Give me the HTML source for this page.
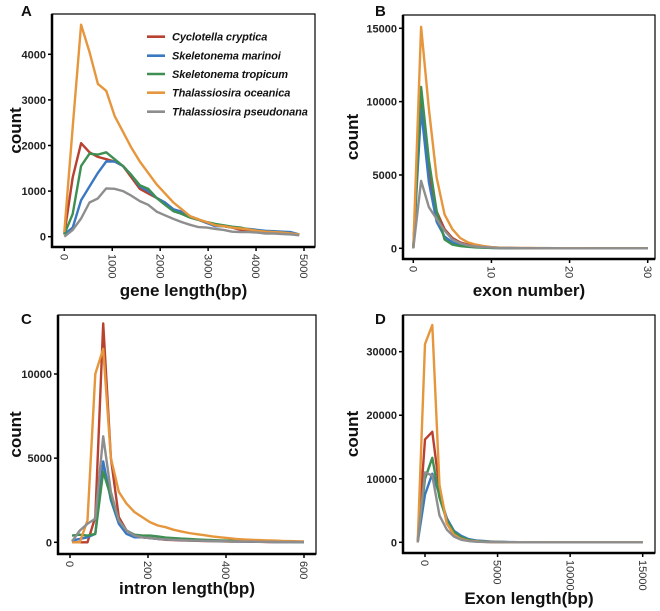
<!DOCTYPE html>
<html><head><meta charset="utf-8">
<style>
body{margin:0;background:#fff;}
svg{display:block;font-family:"Liberation Sans",Arial,sans-serif;}
.tick{font-size:11px;font-weight:bold;fill:#222;}
.ttl{font-size:17px;font-weight:bold;fill:#111;}
.plab{font-size:15px;font-weight:bold;fill:#111;}
.leg{font-size:11px;font-weight:bold;font-style:italic;fill:#111;letter-spacing:-0.1px;}
</style></head>
<body>
<svg id="fig" width="660" height="611" viewBox="0 0 660 611"></svg>
<script>
const speciesNames = ["Cyclotella cryptica","Skeletonema marinoi","Skeletonema tropicum","Thalassiosira oceanica","Thalassiosira pseudonana"];
const speciesColors = ["#b8412f","#3a78c2","#3d8f52","#e6963c","#8e8e8e"];

// Panel A: gene length
const aX = [0,175,350,525,700,875,1050,1225,1400,1575,1750,1925,2100,2275,2450,2625,2800,2975,3150,3325,3500,3675,3850,4025,4200,4375,4550,4725,4900];
const aRed = [50,1300,2050,1850,1750,1700,1650,1550,1300,1050,950,850,750,600,500,420,370,300,270,230,200,150,140,130,110,100,90,80,50];
const aBlue = [50,200,800,1100,1400,1650,1650,1550,1350,1100,1000,850,750,600,550,450,380,300,230,230,200,180,170,150,130,120,110,100,50];
const aGreen = [50,500,1550,1820,1800,1850,1700,1550,1350,1130,1050,850,700,560,500,420,370,320,280,250,220,200,160,130,110,100,90,70,40];
const aOrange = [100,2400,4650,4050,3350,3200,2650,2300,1950,1650,1400,1150,950,750,600,450,380,320,250,230,200,180,160,130,110,100,90,70,50];
const aGray = [0,150,400,750,840,1060,1050,1000,900,780,700,550,470,390,320,260,210,200,170,150,110,100,100,90,70,70,60,50,30];
const aYTicks = [0,1000,2000,3000,4000];
const aXTicks = [0,1000,2000,3000,4000,5000];

// Panel B: exon number
const bX = [0,1,2,3,4,5,6,7,8,9,10,11,12,13,14,15,16,17,18,19,20,21,22,23,24,25,26,27,28,29,30];
const bRed = [0,10500,5000,2500,1300,700,400,250,150,80,50,30,20,15,10,10,8,6,5,4,3,3,2,2,1,1,1,1,0,0,0];
const bBlue = [0,9500,4500,1800,800,400,200,120,80,50,30,20,15,10,8,6,5,4,3,2,2,1,1,1,1,0,0,0,0,0,0];
const bGreen = [0,11000,6000,2500,600,250,150,100,60,40,30,20,15,10,8,6,5,4,3,2,2,1,1,1,1,0,0,0,0,0,0];
const bOrange = [0,15100,9500,4800,2300,1300,700,400,250,150,80,50,40,30,25,20,15,12,10,8,6,5,4,3,3,2,2,1,1,1,0];
const bGray = [0,4600,2800,2000,1200,600,350,200,120,80,50,30,20,15,10,8,6,5,4,3,2,2,1,1,1,1,0,0,0,0,0];
const bYTicks = [0,5000,10000,15000];
const bXTicks = [0,10,20,30];

// Panel C: intron length
const cX = [5,25,45,65,85,105,125,145,165,185,205,225,245,265,285,305,325,345,365,385,405,425,445,465,485,505,525,545,565,585,600];
const cRed = [0,0,0,1500,13000,5000,1500,700,400,300,250,200,150,130,110,100,90,80,70,60,50,40,40,30,30,20,20,20,10,10,10];
const cBlue = [100,200,300,500,4800,2500,1100,500,300,300,250,200,170,150,130,110,100,90,80,70,60,50,40,40,30,30,20,20,20,10,10];
const cGreen = [400,450,400,500,4200,2700,1300,700,450,400,400,350,280,250,220,200,170,150,130,110,100,90,80,70,60,50,40,30,30,20,20];
const cOrange = [0,0,1300,10000,11500,5000,3000,2300,1800,1500,1200,1000,900,750,650,550,480,420,350,300,250,200,170,150,130,110,100,80,70,60,50];
const cGray = [50,700,1100,1400,6300,3000,1300,700,400,300,250,200,170,150,130,110,100,90,80,70,60,50,40,40,30,30,20,20,20,10,10];
const cYTicks = [0,5000,10000];
const cXTicks = [0,200,400,600];

// Panel D: exon length
const dX = [-500,0,500,1000,1500,2000,2500,3000,3500,4000,4500,5000,5500,6000,6500,7000,7500,8000,8500,9000,9500,10000,10500,11000,11500,12000,12500,13000,13500,14000,14500,15000];
const dRed = [0,16200,17400,8500,3000,1200,600,300,150,80,50,30,20,10,10,5,5,0,0,0,0,0,0,0,0,0,0,0,0,0,0,0];
const dBlue = [0,7500,10800,7500,3800,1800,1000,500,300,200,120,80,50,30,20,10,10,5,5,0,0,0,0,0,0,0,0,0,0,0,0,0];
const dGreen = [0,10000,13300,7000,3500,1600,800,400,200,120,80,50,30,20,10,10,5,5,0,0,0,0,0,0,0,0,0,0,0,0,0,0];
const dOrange = [0,31200,34200,9000,3000,1200,500,250,150,80,50,30,20,10,10,5,5,0,0,0,0,0,0,0,0,0,0,0,0,0,0,0];
const dGray = [0,11000,10500,4200,2000,900,400,200,100,60,40,20,10,10,5,5,0,0,0,0,0,0,0,0,0,0,0,0,0,0,0,0];
const dYTicks = [0,10000,20000,30000];
const dXTicks = [0,5000,10000,15000];

const NS = "http://www.w3.org/2000/svg";
const fig = document.getElementById("fig");
function mk(tag, attrs, parent){
  const e = document.createElementNS(NS, tag);
  for (const k in attrs) e.setAttribute(k, attrs[k]);
  (parent||fig).appendChild(e);
  return e;
}
function scale(d0,d1,r0,r1){ return v => r0 + (v-d0)/(d1-d0)*(r1-r0); }

function panel(p){
  const g = mk("g", {});
  
  
  const sx = scale(p.xd[0], p.xd[1], p.xr[0], p.xr[1]);
  const sy = scale(p.yd[0], p.yd[1], p.yr[0], p.yr[1]);
  const fr = mk("rect", {x:p.box[0], y:p.box[1], width:p.box[2]-p.box[0], height:p.box[3]-p.box[1], fill:"none", stroke:"#000", "stroke-width":1.2}, g);
  
  
  const ya = mk("line", {x1:p.box[0], y1:p.box[1], x2:p.box[0], y2:p.box[3]+1, stroke:"#000", "stroke-width":2.5}, g);
  
  
  const xa = mk("line", {x1:p.box[0]-1, y1:p.box[3], x2:p.box[2], y2:p.box[3], stroke:"#000", "stroke-width":2.5}, g);
  
  
  p.yt.forEach(v => {
    const y = sy(v);
    const tl = mk("line", {x1:p.box[0]-4, y1:y, x2:p.box[0], y2:y, stroke:"#000", "stroke-width":1.5}, g);
    
    
    const t = mk("text", {x:p.box[0]-6, y:y+4, "text-anchor":"end", class:"tick"}, g);
    t.textContent = v;
    
    
  });
  p.xt.forEach(v => {
    const x = sx(v);
    const tl = mk("line", {x1:x, y1:p.box[3], x2:x, y2:p.box[3]+4, stroke:"#000", "stroke-width":1.5}, g);
    
    
    const ty = p.box[3]+7;
    const t = mk("text", {x:x, y:ty, dy:"0.35em", transform:`rotate(90 ${x} ${ty})`, "text-anchor":"start", class:"tick", style:"font-weight:normal;fill:#333"}, g);
    t.textContent = v;
    
    
  });
  p.series.forEach((s, i) => {
    const d = p.x.map((xv, j) => (j ? "L" : "M") + sx(xv).toFixed(1) + "," + sy(s[j]).toFixed(1)).join(" ");
    const path = mk("path", {d:d, fill:"none", stroke:speciesColors[i], "stroke-width":2.4, "stroke-linejoin":"round"}, g);
    
    
  });
  const xt = mk("text", {x:(p.box[0]+p.box[2])/2, y:p.xtY, "text-anchor":"middle", class:"ttl"}, g);
  xt.textContent = p.xTitle;
  
  
  const yc = (p.box[1]+p.box[3])/2;
  const yt = mk("text", {x:p.ytX, y:yc, transform:`rotate(-90 ${p.ytX} ${yc})`, "text-anchor":"middle", class:"ttl"}, g);
  yt.textContent = "count";
  
  
  const pl = mk("text", {x:p.lab[0], y:p.lab[1], class:"plab"}, g);
  pl.textContent = p.id;
  
  
}

panel({id:"A", box:[52,14,315,247], xd:[0,5000], xr:[64.3,304], yd:[0,4000], yr:[236.7,54.3],
  x:aX, series:[aRed,aBlue,aGreen,aOrange,aGray], yt:aYTicks, xt:aXTicks,
  xTitle:"gene length(bp)", xtY:296, ytX:21, lab:[21,16]});
panel({id:"B", box:[403,15,655,259], xd:[0,30], xr:[413.3,647.7], yd:[0,15000], yr:[248.3,28.3],
  x:bX, series:[bRed,bBlue,bGreen,bOrange,bGray], yt:bYTicks, xt:bXTicks,
  xTitle:"exon number)", xtY:296, ytX:358, lab:[375,16]});
panel({id:"C", box:[58,315,316,554], xd:[0,600], xr:[70,304], yd:[0,10000], yr:[542.3,374],
  x:cX, series:[cRed,cBlue,cGreen,cOrange,cGray], yt:cYTicks, xt:cXTicks,
  xTitle:"intron length(bp)", xtY:594, ytX:21, lab:[21,324]});
panel({id:"D", box:[403,315,655,553], xd:[0,15000], xr:[425,642.7], yd:[0,30000], yr:[542.3,351.7],
  x:dX, series:[dRed,dBlue,dGreen,dOrange,dGray], yt:dYTicks, xt:dXTicks,
  xTitle:"Exon length(bp)", xtY:604, ytX:358, lab:[375,324]});

const legRows = [36.7,55.7,74,92.7,111.7];
speciesNames.forEach((n,i) => {
  const g = mk("g", {});
  
  
  mk("line", {x1:147, y1:legRows[i], x2:165, y2:legRows[i], stroke:speciesColors[i], "stroke-width":2.6}, g);
  const t = mk("text", {x:172, y:legRows[i]+4, class:"leg"}, g);
  t.textContent = n;
});
</script>
</body></html>
